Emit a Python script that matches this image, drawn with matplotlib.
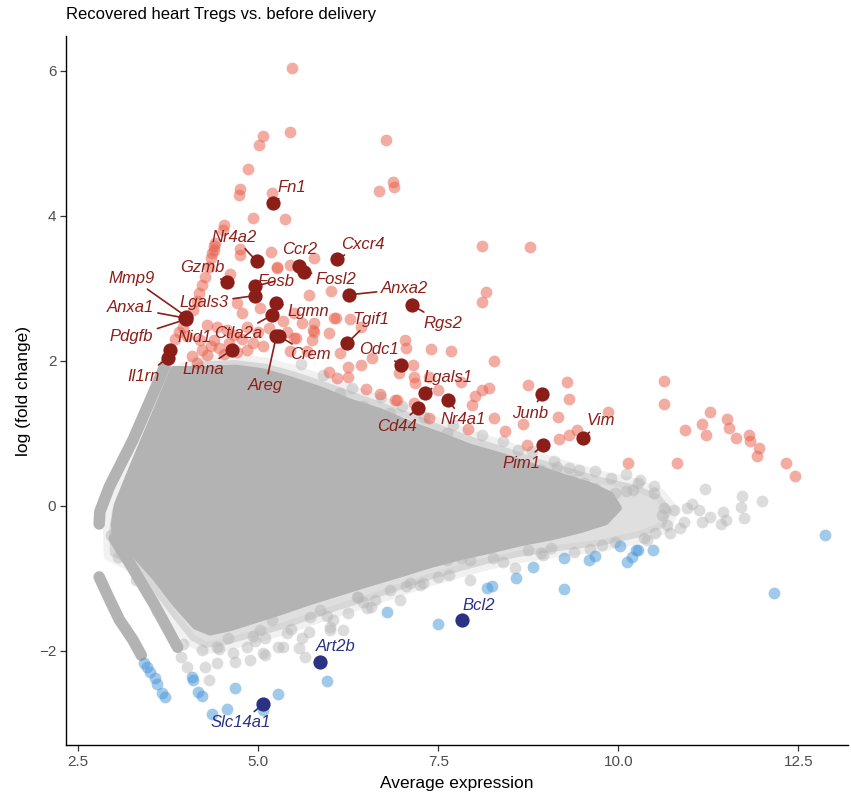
import matplotlib
matplotlib.use("Agg")
import matplotlib.pyplot as plt
from matplotlib.patches import Polygon

plt.rcParams['font.family'] = ['Liberation Sans', 'DejaVu Sans']

# ---------------- data ----------------
title = "Recovered heart Tregs vs. before delivery"
xlabel = "Average expression"
ylabel = "log (fold change)"
xticks = [2.5, 5.0, 7.5, 10.0, 12.5]
xticklabels = ["2.5", "5.0", "7.5", "10.0", "12.5"]
yticks = [-2, 0, 2, 4, 6]
yticklabels = ["\u22122", "0", "2", "4", "6"]

# dense (saturated) core of non-significant genes: outline
core_x = [3.04, 3.24, 3.43, 3.63, 3.82, 4.26, 4.68, 5.06, 5.44, 5.86, 6.28, 6.69, 7.11, 7.53, 7.94,
          8.36, 8.78, 9.19, 9.61, 9.89, 10.0, 9.82, 9.47, 9.06, 8.64, 8.22, 7.81, 7.39, 6.97, 6.56,
          6.14, 5.72, 5.31, 4.96, 4.61, 4.33, 4.13, 3.85, 3.57, 3.29, 3.03, 3.0]
core_y = [0.01, 0.50, 0.95, 1.42, 1.88, 1.88, 1.90, 1.85, 1.74, 1.60, 1.43, 1.30, 1.12, 0.97, 0.81,
          0.69, 0.55, 0.41, 0.28, 0.15, -0.03, -0.22, -0.33, -0.43, -0.51, -0.61, -0.70, -0.81, -0.94, -1.06,
          -1.19, -1.32, -1.46, -1.57, -1.68, -1.74, -1.66, -1.35, -0.99, -0.68, -0.54, -0.26]

# thinner margin of the cloud around the core: outline
halo_x = [2.97, 3.18, 3.375, 3.57, 3.75, 4.19, 4.68, 5.10, 5.51, 5.93, 6.35, 6.76, 7.18, 7.60, 8.01,
          8.43, 8.85, 9.26, 9.75, 10.24, 10.58, 10.75, 10.65, 10.31, 9.75, 9.19, 8.64, 8.22, 7.81, 7.39,
          6.97, 6.56, 6.14, 5.72, 5.31, 4.89, 4.54, 4.26, 4.06, 3.78, 3.50, 3.22, 2.94, 2.93]
halo_y = [-0.06, 0.43, 0.88, 1.35, 1.79, 1.99, 2.01, 1.96, 1.85, 1.71, 1.56, 1.41, 1.26, 1.09, 0.94,
          0.81, 0.66, 0.54, 0.40, 0.29, 0.15, -0.06, -0.29, -0.43, -0.55, -0.62, -0.70, -0.79, -0.90, -1.02,
          -1.16, -1.30, -1.43, -1.57, -1.71, -1.82, -1.92, -1.96, -1.85, -1.50, -1.13, -0.81, -0.68, -0.33]

# low-count diagonal bands of non-significant genes
band_top_x = [2.79, 2.80, 2.93, 3.26, 3.58, 3.72]
band_top_y = [-0.25, -0.08, 0.26, 0.91, 1.64, 1.97]
band_low1_x = [2.79, 2.92, 3.07, 3.26, 3.375]
band_low1_y = [-0.98, -1.26, -1.57, -1.85, -2.06]
band_low2_x = [3.0, 3.25, 3.55, 3.88]
band_low2_y = [-0.45, -0.85, -1.35, -1.95]

# scattered non-significant genes at the edge of the cloud
grey_x = [9.67, 10.11, 10.28, 10.50, 10.49, 11.21, 11.72, 12.0, 11.70, 11.74, 11.46, 11.49, 11.43, 11.28,
          11.16, 11.02, 10.95, 11.12, 10.91, 10.86, 10.72, 10.77, 10.63, 10.68, 10.40, 10.51, 9.77, 9.38,
          9.06, 8.92, 9.31, 9.15, 8.92, 9.36, 9.52, 9.68, 9.96, 10.10, 10.21,
          3.92, 4.01, 4.26, 4.31, 4.43, 4.65, 4.68, 4.89, 4.85, 5.06, 5.10, 5.28, 5.40, 5.61, 5.65, 5.56,
          6.00, 6.18, 6.04, 6.24, 6.39, 6.51, 6.62, 6.97, 7.25, 7.49, 7.94, 7.81, 7.62, 7.11, 6.83, 5.86,
          5.72, 5.19, 5.03, 4.93, 4.58, 4.43, 4.22, 7.29, 6.56, 6.37, 6.00, 5.70, 5.35, 5.10, 8.57, 8.26,
          7.94, 8.74,
          6.14, 6.46, 6.83, 7.16, 7.62, 7.94, 8.60, 8.68, 8.96,
          5.60, 5.90, 6.30, 6.70, 7.00, 7.30, 7.70, 8.10, 8.40, 8.80, 9.10, 9.45, 9.90, 10.30,
          9.60, 9.95, 10.35, 10.60, 8.95, 8.40, 7.65, 7.05, 6.45, 5.95, 5.45, 4.95, 4.45, 3.95, 3.60, 3.30,
          3.05, 2.95]
grey_y = [0.48, 0.44, 0.31, 0.28, 0.18, 0.23, 0.13, 0.07, -0.02, -0.17, -0.09, -0.20, -0.25, -0.16,
          -0.22, 0.03, -0.03, -0.06, -0.22, -0.31, -0.38, -0.06, -0.03, -0.26, -0.47, -0.38, -0.54, -0.63,
          -0.58, -0.65, 0.52, 0.54, 0.50, 0.36, 0.31, 0.24, 0.18, 0.20, 0.22,
          -2.08, -2.22, -2.22, -2.40, -2.17, -2.03, -2.15, -2.12, -1.94, -2.03, -1.82, -1.94, -1.75, -1.82,
          -2.08, -1.96, -1.71, -1.71, -1.57, -1.48, -1.25, -1.41, -1.30, -1.30, -1.09, -0.98, -1.02, -0.72,
          -0.74, -1.06, -1.16, -1.43, -1.53, -1.57, -1.71, -1.80, -1.82, -1.94, -1.99, -1.06, -1.39, -1.25,
          -1.67, -1.74, -1.94, -2.06, -0.86, -0.72, -0.74, -0.61,
          1.56, 1.37, 1.28, 1.05, 1.01, 0.59, 0.77, 0.50, 0.40,
          1.95, 1.80, 1.62, 1.50, 1.38, 1.22, 1.12, 0.98, 0.90, 0.75, 0.62, 0.50, 0.38, 0.36,
          -0.60, -0.50, -0.44, -0.12, -0.68, -0.78, -0.95, -1.10, -1.32, -1.52, -1.70, -1.86, -1.98, -1.90,
          -1.45, -1.02, -0.70, -0.40]

# up-regulated genes (unlabelled)
up_x = [5.47, 5.07, 5.01, 5.44, 4.86, 4.74, 4.73, 5.19, 5.37, 4.93, 6.77, 6.87, 6.88, 6.68, 4.53, 4.51,
        4.38, 4.36, 4.74, 4.74, 5.18, 5.77, 5.26, 8.10, 8.77, 8.16, 8.10, 6.01, 5.70, 6.08, 5.98, 5.75,
        5.76, 5.53, 6.42, 7.04, 7.05, 7.40, 7.67, 6.14, 8.27, 6.25, 6.42, 6.58, 5.98, 6.09, 6.25, 6.95,
        7.15, 7.16, 7.18, 7.37, 6.50, 6.69, 6.93, 7.81, 8.11, 8.20, 8.75, 9.29, 9.31, 7.97, 7.50, 9.16,
        8.68, 8.43, 9.18, 9.32, 9.43, 9.86, 8.73, 8.27, 7.91, 8.01, 7.37, 7.16, 6.90, 10.14, 10.63, 10.63,
        11.28, 11.16, 11.51, 11.54, 11.22, 10.92, 11.81, 11.83, 11.64, 11.96, 11.93, 12.33, 12.45, 10.81,
        4.40, 4.38, 4.34, 4.31, 4.26, 4.22, 4.17, 4.15, 4.10, 3.85, 3.90, 3.95,
        4.61, 5.26, 5.44, 4.70, 4.77, 5.03, 5.49, 5.61, 5.77, 5.77, 5.49, 6.05, 6.28, 4.29, 4.43, 4.56,
        4.84, 5.00, 4.01, 4.19, 4.38, 4.93, 5.07, 4.08, 4.15, 4.29, 4.84, 5.44, 5.68,
        4.45, 4.52, 4.60, 4.70, 4.78, 4.35, 4.22, 4.66, 5.15, 5.35, 5.40]
up_y = [6.04, 5.10, 4.98, 5.16, 4.64, 4.37, 4.29, 4.32, 3.96, 3.97, 5.05, 4.46, 4.40, 4.34, 3.87, 3.81,
        3.58, 3.49, 3.54, 3.46, 3.50, 3.42, 3.28, 3.58, 3.57, 2.95, 2.81, 2.96, 2.91, 2.59, 2.39, 2.29,
        2.43, 2.31, 2.47, 2.29, 2.17, 2.16, 2.14, 2.11, 2.00, 1.92, 1.94, 2.04, 1.84, 1.76, 1.77, 1.83,
        1.94, 1.78, 1.69, 1.78, 1.61, 1.54, 1.46, 1.71, 1.60, 1.62, 1.67, 1.71, 1.47, 1.39, 1.60, 1.23,
        1.13, 1.03, 0.92, 0.97, 1.05, 1.30, 0.84, 1.21, 1.06, 1.51, 1.21, 1.42, 1.46, 0.59, 1.72, 1.40,
        1.29, 1.13, 1.20, 1.07, 0.97, 1.04, 0.97, 0.89, 0.93, 0.80, 0.69, 0.59, 0.41, 0.59,
        3.62, 3.53, 3.42, 3.30, 3.16, 3.05, 2.93, 2.82, 2.70, 2.30, 2.40, 2.47,
        3.19, 3.30, 3.32, 2.80, 2.66, 2.73, 2.66, 2.52, 2.52, 2.40, 2.31, 2.59, 2.57, 2.50, 2.47, 2.43,
        2.47, 2.40, 2.34, 2.29, 2.29, 2.24, 2.20, 2.06, 1.97, 2.08, 2.15, 2.13, 2.13,
        2.18, 2.10, 2.25, 2.12, 2.30, 2.20, 2.15, 2.36, 2.45, 2.55, 2.40]

# down-regulated genes (unlabelled)
down_x = [6.79, 7.50, 5.96, 5.27, 4.68, 4.56, 4.36, 5.07, 4.08, 4.10, 4.16, 4.22, 3.41, 3.45, 3.50, 3.57,
          3.60, 3.66, 3.71, 8.81, 8.58, 8.18, 8.24, 12.87, 12.16, 9.24, 9.24, 9.59, 9.67, 10.02, 10.12,
          10.19, 10.25, 10.27, 10.48]
down_y = [-1.47, -1.63, -2.42, -2.59, -2.51, -2.80, -2.87, -2.81, -2.36, -2.40, -2.56, -2.62, -2.17, -2.22,
          -2.29, -2.38, -2.45, -2.58, -2.63, -0.85, -1.00, -1.13, -1.10, -0.40, -1.20, -1.14, -0.72, -0.74,
          -0.69, -0.56, -0.78, -0.71, -0.61, -0.61, -0.61]

# labelled up-regulated genes
up_genes = ["Fn1", "Nr4a2", "Ccr2", "Fosl2", "Cxcr4", "Anxa2", "Rgs2", "Tgif1", "Odc1", "Lgals1",
            "Nr4a1", "Cd44", "Junb", "Pim1", "Vim", "Gzmb", "Fosb", "Lgals3", "Lgmn", "Ctla2a",
            "Crem", "Areg", "Lmna", "Nid1", "Il1rn", "Mmp9", "Anxa1", "Pdgfb"]
up_gx = [5.21, 4.98, 5.57, 5.64, 6.10, 6.26, 7.13, 6.23, 6.98, 7.31,
         7.63, 7.22, 8.94, 8.96, 9.51, 4.56, 4.96, 4.96, 5.24, 5.19,
         5.29, 5.25, 4.63, 3.78, 3.75, 4.00, 3.98, 3.99]
up_gy = [4.17, 3.37, 3.31, 3.23, 3.40, 2.91, 2.77, 2.24, 1.94, 1.55,
         1.46, 1.35, 1.54, 0.84, 0.93, 3.08, 3.03, 2.90, 2.80, 2.63,
         2.34, 2.34, 2.15, 2.15, 2.04, 2.61, 2.59, 2.57]

# labelled down-regulated genes
down_genes = ["Bcl2", "Art2b", "Slc14a1"]
down_gx = [7.83, 5.86, 5.07]
down_gy = [-1.57, -2.15, -2.73]

# ---------------- layout: label positions (repelled text) ----------------
up_label_pos = {
    "Fn1": (5.46, 4.39), "Nr4a2": (4.67, 3.70), "Ccr2": (5.57, 3.53), "Fosl2": (6.08, 3.12),
    "Cxcr4": (6.45, 3.61), "Anxa2": (7.03, 2.99), "Rgs2": (7.56, 2.52), "Tgif1": (6.57, 2.57),
    "Odc1": (6.67, 2.15), "Lgals1": (7.63, 1.77), "Nr4a1": (7.85, 1.19), "Cd44": (6.93, 1.10),
    "Junb": (8.78, 1.28), "Pim1": (8.66, 0.59), "Vim": (9.76, 1.17), "Gzmb": (4.22, 3.28),
    "Fosb": (5.24, 3.10), "Lgals3": (4.25, 2.80), "Lgmn": (5.69, 2.68), "Ctla2a": (4.72, 2.37),
    "Crem": (5.72, 2.08), "Areg": (5.10, 1.66), "Lmna": (4.23, 1.88), "Nid1": (4.11, 2.32),
    "Il1rn": (3.40, 1.79), "Mmp9": (3.24, 3.14), "Anxa1": (3.22, 2.73), "Pdgfb": (3.24, 2.33),
}
down_label_pos = {"Bcl2": (8.06, -1.37), "Art2b": (6.08, -1.94), "Slc14a1": (4.76, -2.99)}

GREY = "#B3B3B3"
UP_LIGHT = "#E8604C"
DOWN_LIGHT = "#4A98D8"
UP_DARK = "#8C1E19"
DOWN_DARK = "#2B3284"

fig = plt.figure(figsize=(8.51, 7.97), dpi=100)
ax = fig.add_axes([0.0776, 0.065, 0.9189, 0.890])

# grey cloud
halo_xy = list(zip(halo_x, halo_y))
ax.add_patch(Polygon(halo_xy, closed=True, facecolor=GREY, alpha=0.42,
                     edgecolor='none', zorder=1))
ax.add_patch(Polygon(halo_xy, closed=True, facecolor='none', alpha=0.18,
                     edgecolor=GREY, lw=9, joinstyle='round', zorder=1))
ax.add_patch(Polygon(list(zip(core_x, core_y)), closed=True, facecolor=GREY,
                     edgecolor=GREY, lw=5, joinstyle='round', zorder=1.1))
for bx, by in [(band_top_x, band_top_y), (band_low1_x, band_low1_y), (band_low2_x, band_low2_y)]:
    ax.plot(bx, by, color=GREY, lw=8.3, solid_capstyle='round', solid_joinstyle='round', zorder=1.2)
ax.scatter(grey_x, grey_y, s=72, color=GREY, alpha=0.45, linewidths=0, zorder=2)

# significant genes
ax.scatter(up_x, up_y, s=72, color=UP_LIGHT, alpha=0.52, linewidths=0, zorder=3)
ax.scatter(down_x, down_y, s=72, color=DOWN_LIGHT, alpha=0.52, linewidths=0, zorder=3)
ax.scatter(up_gx, up_gy, s=105, color=UP_DARK, linewidths=0, zorder=4)
ax.scatter(down_gx, down_gy, s=105, color=DOWN_DARK, linewidths=0, zorder=4)

def label(names, gx, gy, pos, color):
    for n, px, py in zip(names, gx, gy):
        tx, ty = pos[n]
        ax.annotate(n, xy=(px, py), xytext=(tx, ty), textcoords='data', ha='center', va='center',
                    fontsize=12, fontstyle='italic', color=color, zorder=5,
                    arrowprops=dict(arrowstyle='-', color=color, lw=1.2, shrinkA=1, shrinkB=3))

label(up_genes, up_gx, up_gy, up_label_pos, UP_DARK)
label(down_genes, down_gx, down_gy, down_label_pos, DOWN_DARK)

ax.set_xlim(2.33, 13.19)
ax.set_ylim(-3.30, 6.48)
ax.set_xticks(xticks)
ax.set_xticklabels(xticklabels)
ax.set_yticks(yticks)
ax.set_yticklabels(yticklabels)
for s in ['top', 'right']:
    ax.spines[s].set_visible(False)
for s in ['left', 'bottom']:
    ax.spines[s].set_color('black')
    ax.spines[s].set_linewidth(1.0)
ax.tick_params(axis='both', direction='out', length=4, width=0.9, color='#333333',
               labelcolor='#4D4D4D', labelsize=11, pad=3)
ax.set_xlabel(xlabel, fontsize=12.5, color='black', labelpad=5)
ax.set_ylabel(ylabel, fontsize=12.5, color='black', labelpad=6)
fig.text(66 / 851, 1 - 15 / 797, title, fontsize=12, ha='left', va='center', color='black')

fig.savefig("out.png", dpi=100)
